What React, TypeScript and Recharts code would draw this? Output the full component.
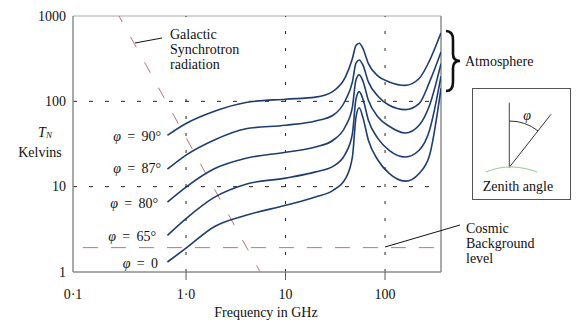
import React from 'react';
import { LineChart, Line, XAxis, YAxis, ReferenceLine } from 'recharts';

// frequency grid (GHz) shared by the five zenith-angle curves
const freqs = [0.65, 1, 1.9, 4, 10, 20, 30, 40, 47, 51, 55, 60, 68, 85, 110, 160, 220, 280, 365];

const tPhi90 = [40, 55, 76, 97, 106, 112, 131, 193, 318, 452, 480, 415, 277, 197, 169, 154, 185, 300, 634];
const tPhi87 = [16, 23.4, 35, 47.7, 52.5, 58.9, 68.7, 103, 169, 280, 305, 265, 169, 115, 90, 80, 94, 169, 379];
const tPhi80 = [6.6, 9.9, 16.1, 21.5, 25.3, 29.2, 35, 51, 86, 178, 204, 172, 103, 65.6, 51, 42.6, 52.5, 90, 277];
const tPhi65 = [2.69, 4.23, 7.45, 10.7, 12.6, 14.9, 17.3, 24.4, 41.9, 106, 130, 106, 60, 36.6, 26.7, 22.3, 26.7, 45.8, 197];
const tPhi0 = [1.31, 1.9, 3.37, 4.62, 6.05, 7.57, 9.07, 12.4, 22.3, 65, 84, 64, 35, 20.4, 14.3, 11.6, 14.3, 23.3, 142];

const curveNames = ['90', '87', '80', '65', '0'];
const curveValues = [tPhi90, tPhi87, tPhi80, tPhi65, tPhi0];

// galactic synchrotron (red dashed, steep)
const galFreq = [0.2, 6];
const galT = [1130, 0.85];

// cosmic background level
const cmbFreq = [0.092, 365];
const cmbT = [1.93, 1.93];

const xDomain = [0.0731, 365];
const xTicks = [0.0731, 1, 10, 100];
const xTickLabels = ['0·1', '1·0', '10', '100'];
const yTicks = [1, 10, 100, 1000];
const yTickLabels = ['1', '10', '100', '1000'];

const FONT = '"Liberation Serif", "DejaVu Serif", serif';
const CURVE = '#1f3d6e';
const RED = '#b8737a';
const AXIS = '#8c8c8c';

const toRows = (xs: number[], ys: number[]) => xs.map((f, i) => ({ f, T: ys[i] }));

const XTick = (props: any) => {
  const { x, y, payload, index } = props;
  return (
    <g>
      {index > 0 && <line x1={x} x2={x} y1={y} y2={y + 8} stroke="#555" strokeWidth={1} />}
      <text x={x} y={y + 22} textAnchor="middle" dominantBaseline="central" fontFamily={FONT} fontSize={14} fill="#111">
        {xTickLabels[xTicks.indexOf(payload.value)]}
      </text>
    </g>
  );
};

const YTick = (props: any) => {
  const { x, y, payload } = props;
  return (
    <text x={x} y={y} textAnchor="end" dominantBaseline="central" fontFamily={FONT} fontSize={14} fill="#111">
      {yTickLabels[yTicks.indexOf(payload.value)]}
    </text>
  );
};

const PhiLabel = ({ x, y, deg }: { x: number; y: number; deg: string }) => (
  <text x={x} y={y} textAnchor="end" dominantBaseline="central" fontFamily={FONT} fontSize={14} fill="#111" style={{ whiteSpace: 'pre' }}>
    <tspan fontStyle="italic">φ</tspan>
    {deg === '0' ? ' \u2009=\u2009 0' : ` \u2009=\u2009 ${deg}°`}
  </text>
);

const Overlay = () => (
  <svg width={584} height={336} style={{ position: 'absolute', left: 0, top: 0, pointerEvents: 'none' }}>
    <g fontFamily={FONT} fontSize={14} fill="#111">
      {/* galactic label */}
      <rect x={167} y={24} width={92} height={62} fill="#fff" />
      <line x1={135} y1={43} x2={162} y2={38} stroke="#111" strokeWidth={1} />
      <text x={170} y={34} dominantBaseline="central">Galactic</text>
      <text x={170} y={49} dominantBaseline="central">Synchrotron</text>
      <text x={170} y={64} dominantBaseline="central">radiation</text>

      {/* axis titles */}
      <text x={45} y={132} textAnchor="middle" dominantBaseline="central">
        <tspan fontStyle="italic">T</tspan>
        <tspan fontStyle="italic" fontSize={9} dy={3}>N</tspan>
      </text>
      <text x={40} y={152} textAnchor="middle" dominantBaseline="central">Kelvins</text>
      <text x={266} y={312} textAnchor="middle" dominantBaseline="central">Frequency in GHz</text>

      {/* zenith labels */}
      <PhiLabel x={161} y={136} deg={curveNames[0]} />
      <PhiLabel x={161} y={168} deg={curveNames[1]} />
      <PhiLabel x={158} y={203} deg={curveNames[2]} />
      <PhiLabel x={156} y={236} deg={curveNames[3]} />
      <PhiLabel x={158} y={263} deg={curveNames[4]} />

      {/* atmosphere brace */}
      <path d="M446 31 Q453 31 453 40 L453 54 Q453 61 460 61 Q453 61 453 68 L453 82 Q453 91 446 91" fill="none" stroke="#111" strokeWidth={2.6} />
      <text x={465} y={61} dominantBaseline="central">Atmosphere</text>

      {/* zenith inset */}
      <rect x={472.5} y={88.5} width={98} height={111} fill="#fff" stroke="#555" strokeWidth={1} />
      <line x1={509.3} y1={102.7} x2={509.3} y2={167.3} stroke="#444" strokeWidth={1} />
      <line x1={509.3} y1={167.3} x2={551} y2={114.3} stroke="#333" strokeWidth={1} />
      <path d="M509.3 121 A46.3 46.3 0 0 1 538 130.9" fill="none" stroke="#333" strokeWidth={1} />
      <path d="M486 172 Q510 162 537 172" fill="none" stroke="#8fcf8f" strokeWidth={1.2} />
      <text x={527} y={115} textAnchor="middle" dominantBaseline="central" fontStyle="italic">φ</text>
      <text x={518} y={186} textAnchor="middle" dominantBaseline="central">Zenith angle</text>

      {/* cosmic background */}
      <line x1={385} y1={247} x2={460} y2={225} stroke="#111" strokeWidth={1} />
      <text x={466} y={228} dominantBaseline="central">Cosmic</text>
      <text x={466} y={243} dominantBaseline="central">Background</text>
      <text x={466} y={258} dominantBaseline="central">level</text>
    </g>
  </svg>
);

export default function App() {
  return (
    <div style={{ position: 'absolute', left: 0, top: 0, width: 584, height: 336, background: '#fff' }}>
      <LineChart width={584} height={336} margin={{ top: 16, right: 143, bottom: 34, left: 0 }}>
        <XAxis
          dataKey="f"
          type="number"
          scale="log"
          domain={xDomain}
          allowDataOverflow
          ticks={xTicks}
          height={30}
          tickSize={0}
          tickMargin={0}
          tickLine={false}
          axisLine={{ stroke: AXIS, strokeWidth: 1.5 }}
          tick={<XTick />}
          interval={0}
        />
        <YAxis
          dataKey="T"
          type="number"
          scale="log"
          domain={[1, 1000]}
          allowDataOverflow
          ticks={yTicks}
          width={73}
          tickSize={0}
          tickMargin={7}
          tickLine={false}
          axisLine={{ stroke: AXIS, strokeWidth: 1.5 }}
          tick={<YTick />}
          interval={0}
        />
        <ReferenceLine y={1000} stroke="#a8a8a8" strokeWidth={1.2} />
        <ReferenceLine x={365} stroke={AXIS} strokeWidth={1.5} />
        <ReferenceLine y={100} stroke="#222" strokeDasharray="4 12" />
        <ReferenceLine y={10} stroke="#222" strokeDasharray="4 12" />
        {[1, 10, 100].map((v) => (
          <ReferenceLine key={v} x={v} stroke="#222" strokeDasharray="3 14" />
        ))}
        <Line
          data={toRows(galFreq, galT)}
          dataKey="T"
          type="linear"
          stroke={RED}
          strokeWidth={1}
          strokeDasharray="12 17"
          dot={false}
          isAnimationActive={false}
        />
        <Line
          data={toRows(cmbFreq, cmbT)}
          dataKey="T"
          type="linear"
          stroke={RED}
          strokeWidth={1}
          strokeDasharray="15 13"
          dot={false}
          isAnimationActive={false}
        />
        {curveValues.map((vals, i) => (
          <Line
            key={curveNames[i]}
            data={toRows(freqs, vals)}
            dataKey="T"
            type="monotone"
            stroke={CURVE}
            strokeWidth={1.6}
            dot={false}
            isAnimationActive={false}
          />
        ))}
      </LineChart>
      <Overlay />
    </div>
  );
}
